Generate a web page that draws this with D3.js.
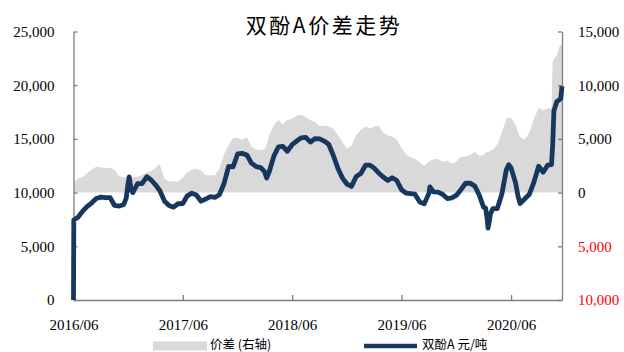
<!DOCTYPE html>
<html>
<head>
<meta charset="utf-8">
<script src="https://cdn.jsdelivr.net/npm/d3@7"></script>
<style>
  body { margin: 0; background: #fff; }
  svg { display: block; }
</style>
</head>
<body>
<svg id="chart" width="624" height="352"></svg>
<script>
// Observation dates (semi-monthly, with extra points around sharp moves)
const dates = [
  "2016-06-01","2016-06-02","2016-06-16","2016-07-01","2016-07-16","2016-08-01","2016-08-16",
  "2016-09-01","2016-09-16","2016-10-01","2016-10-16","2016-11-01","2016-11-16","2016-11-24",
  "2016-12-01","2016-12-04","2016-12-10","2016-12-16","2017-01-01","2017-01-16","2017-02-01",
  "2017-02-16","2017-03-01","2017-03-16","2017-04-01","2017-04-16","2017-05-01","2017-05-16",
  "2017-06-01","2017-06-16","2017-07-01","2017-07-16","2017-08-01","2017-08-16","2017-09-01",
  "2017-09-16","2017-10-01","2017-10-16","2017-11-01","2017-11-16","2017-12-01","2017-12-16",
  "2018-01-01","2018-01-16","2018-02-01","2018-02-16","2018-03-01","2018-03-08","2018-03-16",
  "2018-04-01","2018-04-16","2018-05-01","2018-05-16","2018-06-01","2018-06-16","2018-07-01",
  "2018-07-16","2018-08-01","2018-08-16","2018-09-01","2018-09-16","2018-10-01","2018-10-16",
  "2018-11-01","2018-11-16","2018-12-01","2018-12-16","2019-01-01","2019-01-16","2019-02-01",
  "2019-02-16","2019-03-01","2019-03-16","2019-04-01","2019-04-16","2019-05-01","2019-05-16",
  "2019-06-01","2019-06-16","2019-07-01","2019-07-16","2019-08-01","2019-08-16","2019-09-01",
  "2019-09-04","2019-09-16","2019-10-01","2019-10-16","2019-11-01","2019-11-16","2019-12-01",
  "2019-12-16","2020-01-01","2020-01-16","2020-02-01","2020-02-16","2020-03-01","2020-03-08",
  "2020-03-13","2020-03-16","2020-03-20","2020-03-24","2020-04-01","2020-04-16","2020-05-01",
  "2020-05-16","2020-05-24","2020-06-01","2020-06-16","2020-06-24","2020-07-01","2020-07-16",
  "2020-08-01","2020-08-16","2020-09-01","2020-09-08","2020-09-16","2020-10-01","2020-10-14",
  "2020-10-18","2020-10-22","2020-11-01","2020-11-08","2020-11-14","2020-11-18"
];

// BPA price, yuan/ton (left axis)
const bpaPrice = [
  0, 7450, 7700, 8250, 8700, 9050, 9450,
  9580, 9540, 9540, 8800, 8740, 8900, 9500,
  11000, 11460, 10300, 10000, 10840, 10840, 11480,
  11150, 10750, 10200, 9200, 8800, 8640, 8960,
  8980, 9700, 9950, 9780, 9200, 9400, 9620,
  9550, 9800, 10800, 12450, 12400, 13600, 13650,
  13500, 12750, 12420, 12320, 11950, 11350, 11900,
  13400, 14250, 14300, 13850, 14470, 14800, 15100,
  15150, 14700, 15030, 15000, 14800, 14500, 13500,
  12250, 11350, 10800, 10580, 11500, 11770, 12550,
  12550, 12300, 11850, 11450, 11130, 11380, 11150,
  10270, 9960, 9910, 9850, 9130, 8950, 9950,
  10530, 10070, 10050, 9850, 9450, 9510, 9740,
  10250, 10870, 10880, 10600, 9750, 8650, 8550,
  7600, 6700, 7300, 8000, 8500, 8520, 9850,
  12100, 12600, 12300, 10900, 9700, 8980, 9400,
  9850, 10950, 12450, 12200, 11900, 12550, 12600,
  14500, 17600, 18500, 18600, 18800, 19900
];

// Price spread, yuan/ton (right axis)
const spread = [
  850, 870, 1330, 1450, 1800, 2150, 2400,
  2350, 2260, 2330, 2100, 1500, 1460, 1450,
  1350, 1310, 1350, 1430, 1480, 1650, 1900,
  2000, 2300, 2650, 1300, 1020, 1050, 1000,
  1400, 1900, 2150, 2230, 2050, 1620, 1620,
  1620, 2250, 3500, 4450, 5080, 5100, 4900,
  5150, 4300, 3980, 3950, 4080, 4500, 5300,
  6250, 6750, 6350, 6780, 6850, 7150, 7250,
  7040, 6730, 6600, 6200, 6230, 6150, 5960,
  5350, 4700, 4100, 4380, 5350, 5830, 6150,
  5960, 6130, 6250, 5600, 5350, 5220, 4950,
  4150, 3580, 3300, 3170, 2800, 2500, 2900,
  2950, 3100, 3100, 2870, 3000, 2700, 2850,
  3330, 3370, 3500, 3770, 3400, 3500, 3700,
  3790, 3800, 3830, 3900, 3980, 4450, 5600,
  6850, 7000, 6950, 6300, 5700, 5180, 4930,
  5600, 6850, 7850, 7800, 7650, 7820, 7850,
  12200, 12400, 12800, 13500, 13750, 13800
];

const leftTicks = [0, 5000, 10000, 15000, 20000, 25000];
const rightTicks = [-10000, -5000, 0, 5000, 10000, 15000];
const xTickDates = ["2016-06-01", "2017-06-01", "2018-06-01", "2019-06-01", "2020-06-01"];
const xTickLabels = ["2016/06", "2017/06", "2018/06", "2019/06", "2020/06"];

const titleText = "双酚A价差走势";
const legendSpread = "价差 (右轴)";
const legendPrice = "双酚A 元/吨";

const parse = d3.timeParse("%Y-%m-%d");
const rows = dates.map((d, i) => ({ date: parse(d), price: bpaPrice[i], spread: spread[i] }));

const svg = d3.select("#chart");
const plot = { left: 73.5, right: 562, top: 31.5, bottom: 300 };

const x = d3.scaleTime()
  .domain([parse(dates[0]), parse(dates[dates.length - 1])])
  .range([plot.left, plot.right]);
const yLeft = d3.scaleLinear().domain([0, 25000]).range([plot.bottom, plot.top]);
const yRight = d3.scaleLinear().domain([-10000, 15000]).range([plot.bottom, plot.top]);

const serif = "'Liberation Serif', 'Times New Roman', serif";
const cjk = "'Noto Sans CJK SC', 'Noto Sans', sans-serif";
const axisColor = "#7f7f7f";

// Spread area (right axis), filled down to zero
svg.append("path")
  .datum(rows)
  .attr("fill", "#d9d9d9")
  .attr("d", d3.area()
    .x(d => x(d.date))
    .y0(yRight(0))
    .y1(d => yRight(d.spread)));

// Axes
function styleAxis(g) {
  g.selectAll("path.domain").attr("stroke", axisColor).attr("stroke-width", 1.3);
  g.selectAll(".tick line").attr("stroke", axisColor).attr("stroke-width", 1.3);
  g.selectAll(".tick text").attr("fill", "#000").style("font-family", serif).style("font-size", "15px");
}

svg.append("g")
  .attr("transform", `translate(${plot.left},0)`)
  .call(d3.axisLeft(yLeft).tickValues(leftTicks).tickSizeInner(-4).tickSizeOuter(0)
    .tickPadding(19).tickFormat(d3.format(",")))
  .call(styleAxis);

svg.append("g")
  .attr("transform", `translate(${plot.right},0)`)
  .call(d3.axisRight(yRight).tickValues(rightTicks).tickSizeInner(-4).tickSizeOuter(0)
    .tickPadding(16).tickFormat(d => d3.format(",")(Math.abs(d))))
  .call(styleAxis)
  .call(g => g.selectAll(".tick text").attr("fill", d => d < 0 ? "#ff0000" : "#000"));

svg.append("g")
  .attr("transform", `translate(0,${plot.bottom})`)
  .call(d3.axisBottom(x).tickValues(xTickDates.map(parse)).tickSizeInner(-5).tickSizeOuter(0)
    .tickPadding(19).tickFormat((d, i) => xTickLabels[i]))
  .call(styleAxis);

// BPA price line (left axis)
svg.append("path")
  .datum(rows)
  .attr("fill", "none")
  .attr("stroke", "#17375e")
  .attr("stroke-width", 4.8)
  .attr("stroke-linejoin", "round")
  .attr("d", d3.line()
    .x(d => x(d.date))
    .y(d => yLeft(d.price)));

// Title
svg.append("text")
  .attr("x", 324).attr("y", 33)
  .attr("text-anchor", "middle")
  .style("font-family", cjk)
  .style("font-size", "21px")
  .style("letter-spacing", "2.5px")
  .text(titleText);

// Legend
const legend = svg.append("g").style("font-family", cjk).style("font-size", "12.5px");
legend.append("rect")
  .attr("x", 153).attr("y", 341.5).attr("width", 54).attr("height", 9)
  .attr("fill", "#d9d9d9");
legend.append("text").attr("x", 210).attr("y", 348.5).text(legendSpread);
legend.append("line")
  .attr("x1", 364).attr("x2", 417).attr("y1", 346).attr("y2", 346)
  .attr("stroke", "#17375e").attr("stroke-width", 4.5);
legend.append("text").attr("x", 422).attr("y", 348.5).text(legendPrice);
</script>
</body>
</html>
